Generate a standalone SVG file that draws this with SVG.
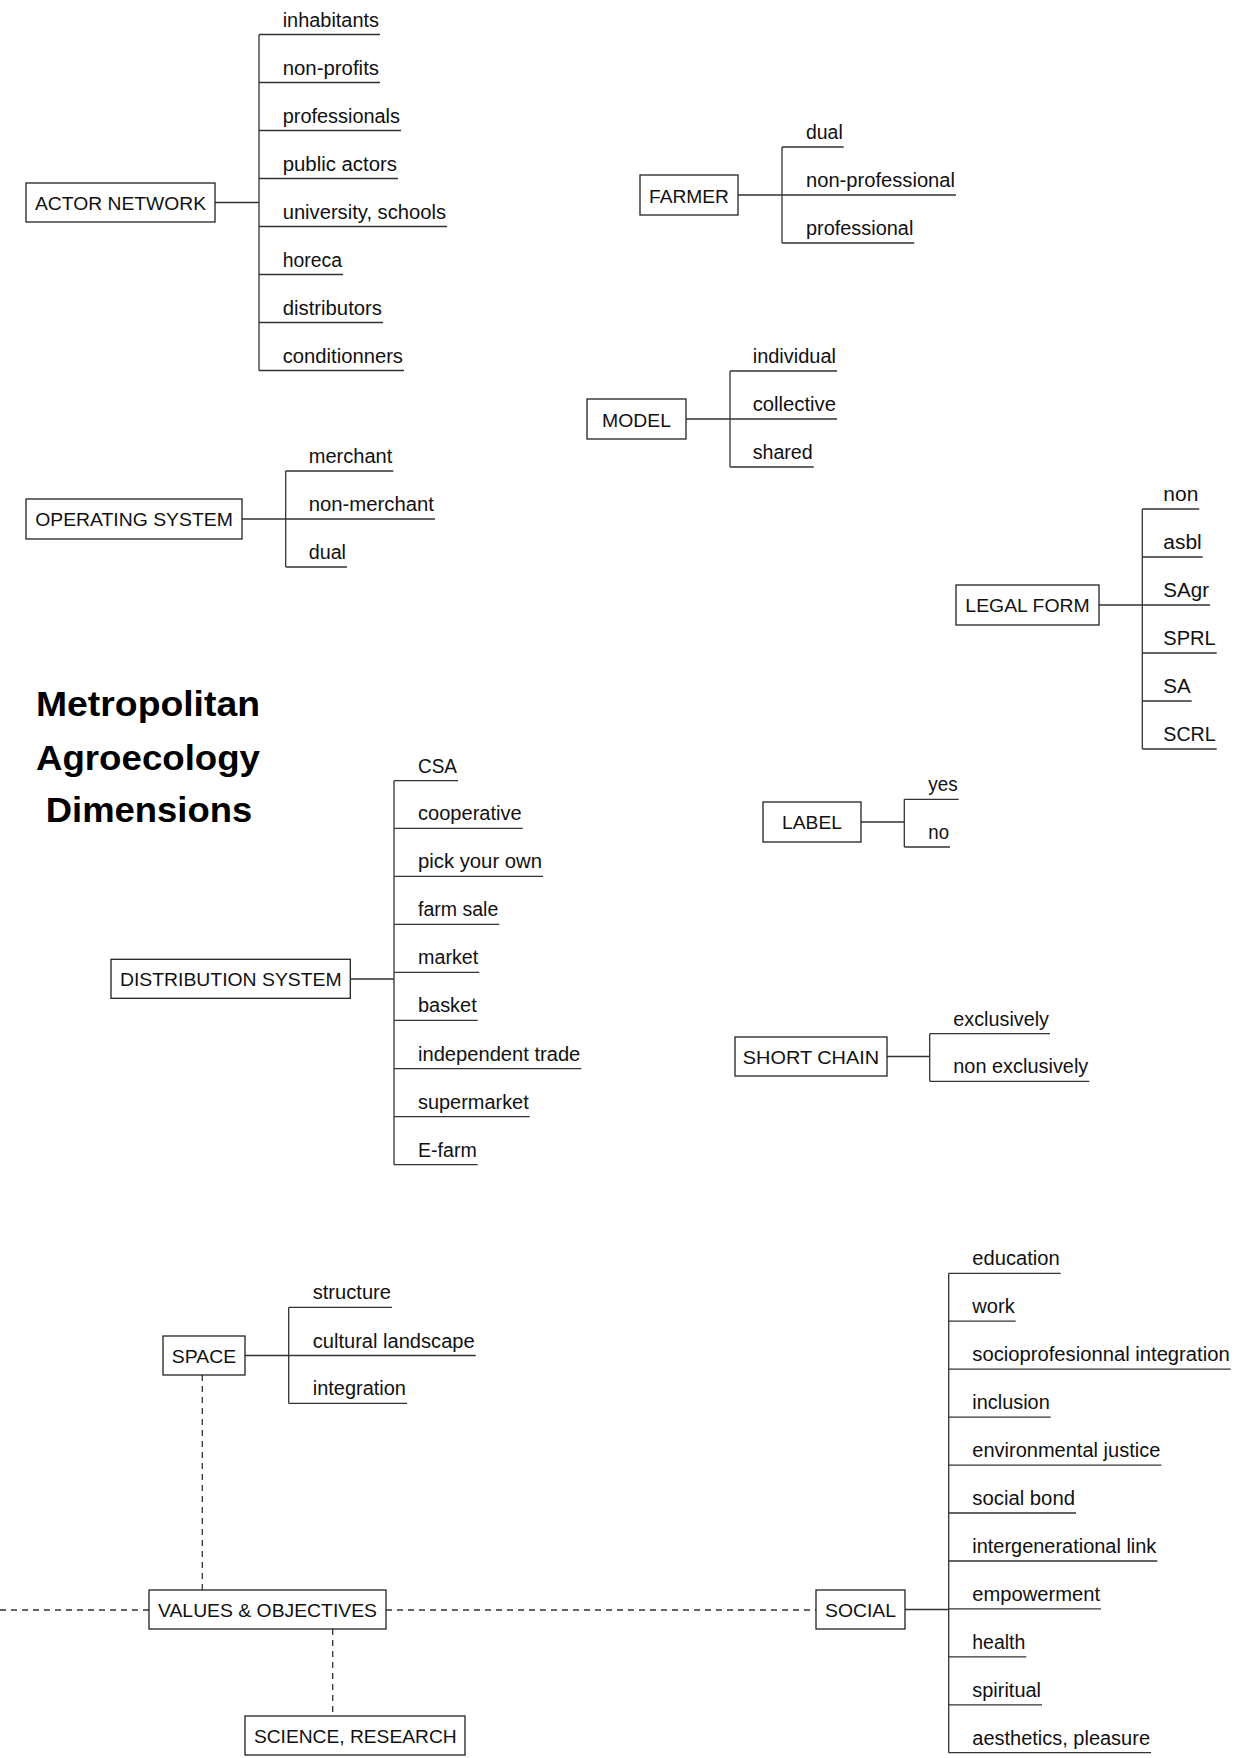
<svg xmlns="http://www.w3.org/2000/svg" width="1241" height="1758" viewBox="0 0 1241 1758">
<style>
.bg{fill:#fff}
.box{fill:#fff;stroke:#222;stroke-width:1.3}
.lbl{font-family:"Liberation Sans",Arial,Helvetica,sans-serif;font-size:19.2px;fill:#111;text-anchor:middle}
.leaf{font-family:"Liberation Sans",Arial,Helvetica,sans-serif;font-size:20px;fill:#111}
.title{font-family:"Liberation Sans",Arial,Helvetica,sans-serif;font-size:35px;font-weight:bold;fill:#000;text-anchor:middle}
.ln{stroke:#333;stroke-width:1.3;fill:none}
.dash{stroke:#333;stroke-width:1.3;fill:none;stroke-dasharray:6 5}
</style>
<rect class="bg" x="0" y="0" width="1241" height="1758"/>

<g id="connectors">
  <!-- Actor network -->
  <path class="ln" d="M215 202.5H259M259 34.5V370.5M259 34.5H380M259 82.5H380M259 130.5H401M259 178.5H398M259 226.5H447M259 274.5H343M259 322.5H383M259 370.5H404"/>
  <!-- Farmer -->
  <path class="ln" d="M738 195H782M782 147V243M782 147H843.7M782 195H956M782 243H914.3"/>
  <!-- Model -->
  <path class="ln" d="M686 419H730M730 371V467M730 371H837M730 419H837M730 467H813.7"/>
  <!-- Operating system -->
  <path class="ln" d="M242 519H285.7M285.7 471V567M285.7 471H393.3M285.7 519H435M285.7 567H347"/>
  <!-- Legal form -->
  <path class="ln" d="M1099 605H1142.3M1142.3 509V749M1142.3 509H1199.3M1142.3 557H1202.7M1142.3 605H1210M1142.3 653H1216.7M1142.3 701H1191.7M1142.3 749H1216.7"/>
  <!-- Distribution system -->
  <path class="ln" d="M350.3 979H394M394 780.7V1164.7M394 780.7H458M394 828.3H522.7M394 876.3H543M394 924.3H499.3M394 972.3H479.3M394 1020.3H477.7M394 1068.7H581.3M394 1116.7H529.7M394 1164.7H477.7"/>
  <!-- Label -->
  <path class="ln" d="M861 822H904.3M904.3 799.3V847M904.3 799.3H958.7M904.3 847H950"/>
  <!-- Short chain -->
  <path class="ln" d="M887 1056.5H929.7M929.7 1033.7V1081.3M929.7 1033.7H1050M929.7 1081.3H1089.3"/>
  <!-- Space -->
  <path class="ln" d="M245 1355.5H288.7M288.7 1307.3V1403.3M288.7 1307.3H392M288.7 1355.5H475.7M288.7 1403.3H407"/>
  <!-- Social -->
  <path class="ln" d="M905 1609.5H948.7M948.7 1273.3V1752.7M948.7 1273.3H1060.7M948.7 1321.2H1015.7M948.7 1369.2H1230.7M948.7 1417.1H1050.7M948.7 1465.1H1161.3M948.7 1513H1076M948.7 1561H1157.3M948.7 1608.9H1101M948.7 1656.8H1026.3M948.7 1704.8H1042M948.7 1752.7H1151"/>
  <!-- Dashed links -->
  <path class="dash" d="M0 1610H149"/>
  <path class="dash" d="M386 1610H816"/>
  <path class="dash" d="M202.3 1375V1590"/>
  <path class="dash" d="M332.7 1629V1716"/>
</g>

<g id="title">
  <text class="title" x="148" y="715.7" textLength="224" lengthAdjust="spacingAndGlyphs">Metropolitan</text>
  <text class="title" x="148" y="770" textLength="224" lengthAdjust="spacingAndGlyphs">Agroecology</text>
  <text class="title" x="149" y="821.7" textLength="206.6" lengthAdjust="spacingAndGlyphs">Dimensions</text>
</g>

<g id="actor-network">
  <rect class="box" x="26" y="183" width="189" height="39"/>
  <text class="lbl" x="120.5" y="209.5" textLength="171" lengthAdjust="spacingAndGlyphs">ACTOR NETWORK</text>
</g>
<g id="actor-network-leaves">
  <text class="leaf" x="282.7" y="26.5" textLength="96.3" lengthAdjust="spacingAndGlyphs">inhabitants</text>
  <text class="leaf" x="282.7" y="74.5" textLength="96.3" lengthAdjust="spacingAndGlyphs">non-profits</text>
  <text class="leaf" x="282.7" y="122.5" textLength="117.3" lengthAdjust="spacingAndGlyphs">professionals</text>
  <text class="leaf" x="282.7" y="170.5" textLength="114.3" lengthAdjust="spacingAndGlyphs">public actors</text>
  <text class="leaf" x="282.7" y="218.5" textLength="163.3" lengthAdjust="spacingAndGlyphs">university, schools</text>
  <text class="leaf" x="282.7" y="266.5" textLength="59.3" lengthAdjust="spacingAndGlyphs">horeca</text>
  <text class="leaf" x="282.7" y="314.5" textLength="99.3" lengthAdjust="spacingAndGlyphs">distributors</text>
  <text class="leaf" x="282.7" y="362.5" textLength="120.3" lengthAdjust="spacingAndGlyphs">conditionners</text>
</g>

<g id="farmer">
  <rect class="box" x="640" y="175" width="98" height="40"/>
  <text class="lbl" x="689" y="202.5" textLength="80" lengthAdjust="spacingAndGlyphs">FARMER</text>
</g>
<g id="farmer-leaves">
  <text class="leaf" x="806" y="139" textLength="36.7" lengthAdjust="spacingAndGlyphs">dual</text>
  <text class="leaf" x="806" y="187" textLength="149" lengthAdjust="spacingAndGlyphs">non-professional</text>
  <text class="leaf" x="806" y="235" textLength="107.3" lengthAdjust="spacingAndGlyphs">professional</text>
</g>

<g id="model">
  <rect class="box" x="587" y="399" width="99" height="40"/>
  <text class="lbl" x="636.5" y="426.5" textLength="69" lengthAdjust="spacingAndGlyphs">MODEL</text>
</g>
<g id="model-leaves">
  <text class="leaf" x="752.7" y="363" textLength="83.3" lengthAdjust="spacingAndGlyphs">individual</text>
  <text class="leaf" x="752.7" y="411" textLength="83.3" lengthAdjust="spacingAndGlyphs">collective</text>
  <text class="leaf" x="752.7" y="459" textLength="60" lengthAdjust="spacingAndGlyphs">shared</text>
</g>

<g id="operating-system">
  <rect class="box" x="26" y="499" width="216" height="40"/>
  <text class="lbl" x="134" y="526" textLength="197.7" lengthAdjust="spacingAndGlyphs">OPERATING SYSTEM</text>
</g>
<g id="operating-system-leaves">
  <text class="leaf" x="308.7" y="463" textLength="83.6" lengthAdjust="spacingAndGlyphs">merchant</text>
  <text class="leaf" x="308.7" y="511" textLength="125.3" lengthAdjust="spacingAndGlyphs">non-merchant</text>
  <text class="leaf" x="308.7" y="559" textLength="37.3" lengthAdjust="spacingAndGlyphs">dual</text>
</g>

<g id="legal-form">
  <rect class="box" x="956" y="585" width="143" height="40"/>
  <text class="lbl" x="1027.5" y="612" textLength="124.3" lengthAdjust="spacingAndGlyphs">LEGAL FORM</text>
</g>
<g id="legal-form-leaves">
  <text class="leaf" x="1163.3" y="501" textLength="35" lengthAdjust="spacingAndGlyphs">non</text>
  <text class="leaf" x="1163.3" y="549" textLength="38.4" lengthAdjust="spacingAndGlyphs">asbl</text>
  <text class="leaf" x="1163.3" y="597" textLength="45.7" lengthAdjust="spacingAndGlyphs">SAgr</text>
  <text class="leaf" x="1163.3" y="645" textLength="52.4" lengthAdjust="spacingAndGlyphs">SPRL</text>
  <text class="leaf" x="1163.3" y="693" textLength="27.4" lengthAdjust="spacingAndGlyphs">SA</text>
  <text class="leaf" x="1163.3" y="741" textLength="52.4" lengthAdjust="spacingAndGlyphs">SCRL</text>
</g>

<g id="distribution-system">
  <rect class="box" x="111" y="959.3" width="239.3" height="39"/>
  <text class="lbl" x="230.8" y="986.3" textLength="221.7" lengthAdjust="spacingAndGlyphs">DISTRIBUTION SYSTEM</text>
</g>
<g id="distribution-system-leaves">
  <text class="leaf" x="418" y="772.7" textLength="39" lengthAdjust="spacingAndGlyphs">CSA</text>
  <text class="leaf" x="418" y="820.3" textLength="103.7" lengthAdjust="spacingAndGlyphs">cooperative</text>
  <text class="leaf" x="418" y="868.3" textLength="124" lengthAdjust="spacingAndGlyphs">pick your own</text>
  <text class="leaf" x="418" y="916.3" textLength="80.3" lengthAdjust="spacingAndGlyphs">farm sale</text>
  <text class="leaf" x="418" y="964.3" textLength="60.3" lengthAdjust="spacingAndGlyphs">market</text>
  <text class="leaf" x="418" y="1012.3" textLength="58.7" lengthAdjust="spacingAndGlyphs">basket</text>
  <text class="leaf" x="418" y="1060.7" textLength="162.3" lengthAdjust="spacingAndGlyphs">independent trade</text>
  <text class="leaf" x="418" y="1108.7" textLength="110.7" lengthAdjust="spacingAndGlyphs">supermarket</text>
  <text class="leaf" x="418" y="1156.7" textLength="58.7" lengthAdjust="spacingAndGlyphs">E-farm</text>
</g>

<g id="label">
  <rect class="box" x="763" y="802" width="98" height="40"/>
  <text class="lbl" x="812" y="829" textLength="60" lengthAdjust="spacingAndGlyphs">LABEL</text>
</g>
<g id="label-leaves">
  <text class="leaf" x="928.3" y="791.3" textLength="29.4" lengthAdjust="spacingAndGlyphs">yes</text>
  <text class="leaf" x="928.3" y="839" textLength="20.7" lengthAdjust="spacingAndGlyphs">no</text>
</g>

<g id="short-chain">
  <rect class="box" x="735" y="1037" width="152" height="39"/>
  <text class="lbl" x="811" y="1063.5" textLength="136.3" lengthAdjust="spacingAndGlyphs">SHORT CHAIN</text>
</g>
<g id="short-chain-leaves">
  <text class="leaf" x="953.3" y="1025.7" textLength="95.7" lengthAdjust="spacingAndGlyphs">exclusively</text>
  <text class="leaf" x="953.3" y="1073.3" textLength="135" lengthAdjust="spacingAndGlyphs">non exclusively</text>
</g>

<g id="space">
  <rect class="box" x="163" y="1336" width="82" height="39"/>
  <text class="lbl" x="204" y="1362.5" textLength="64.3" lengthAdjust="spacingAndGlyphs">SPACE</text>
</g>
<g id="space-leaves">
  <text class="leaf" x="312.7" y="1299.3" textLength="78.3" lengthAdjust="spacingAndGlyphs">structure</text>
  <text class="leaf" x="312.7" y="1347.5" textLength="162" lengthAdjust="spacingAndGlyphs">cultural landscape</text>
  <text class="leaf" x="312.7" y="1395.3" textLength="93.3" lengthAdjust="spacingAndGlyphs">integration</text>
</g>

<g id="values-objectives">
  <rect class="box" x="149" y="1590" width="237" height="39"/>
  <text class="lbl" x="267.5" y="1616.7" textLength="219" lengthAdjust="spacingAndGlyphs">VALUES &amp; OBJECTIVES</text>
</g>

<g id="science-research">
  <rect class="box" x="245" y="1716" width="220" height="39"/>
  <text class="lbl" x="355.3" y="1743" textLength="202.7" lengthAdjust="spacingAndGlyphs">SCIENCE, RESEARCH</text>
</g>

<g id="social">
  <rect class="box" x="816" y="1590" width="89" height="39"/>
  <text class="lbl" x="860.5" y="1616.7" textLength="71" lengthAdjust="spacingAndGlyphs">SOCIAL</text>
</g>
<g id="social-leaves">
  <text class="leaf" x="972.3" y="1265.3" textLength="87.4" lengthAdjust="spacingAndGlyphs">education</text>
  <text class="leaf" x="972.3" y="1313.2" textLength="42.4" lengthAdjust="spacingAndGlyphs">work</text>
  <text class="leaf" x="972.3" y="1361.2" textLength="257.4" lengthAdjust="spacingAndGlyphs">socioprofesionnal integration</text>
  <text class="leaf" x="972.3" y="1409.1" textLength="77.4" lengthAdjust="spacingAndGlyphs">inclusion</text>
  <text class="leaf" x="972.3" y="1457.1" textLength="188" lengthAdjust="spacingAndGlyphs">environmental justice</text>
  <text class="leaf" x="972.3" y="1505" textLength="102.7" lengthAdjust="spacingAndGlyphs">social bond</text>
  <text class="leaf" x="972.3" y="1553" textLength="184" lengthAdjust="spacingAndGlyphs">intergenerational link</text>
  <text class="leaf" x="972.3" y="1600.9" textLength="127.7" lengthAdjust="spacingAndGlyphs">empowerment</text>
  <text class="leaf" x="972.3" y="1648.8" textLength="53" lengthAdjust="spacingAndGlyphs">health</text>
  <text class="leaf" x="972.3" y="1696.8" textLength="68.7" lengthAdjust="spacingAndGlyphs">spiritual</text>
  <text class="leaf" x="972.3" y="1744.7" textLength="177.7" lengthAdjust="spacingAndGlyphs">aesthetics, pleasure</text>
</g>
</svg>
